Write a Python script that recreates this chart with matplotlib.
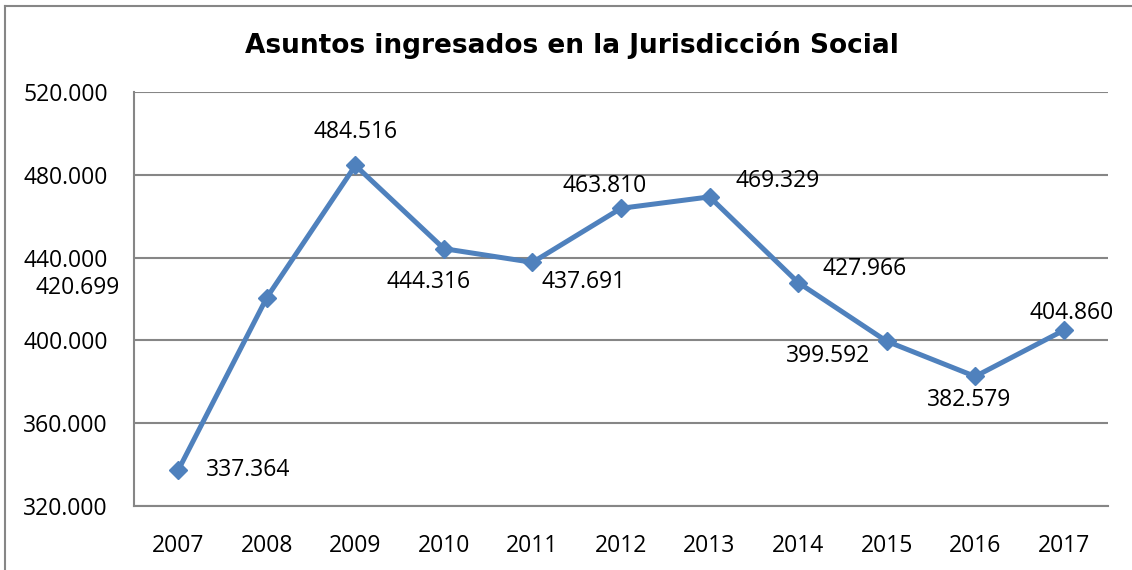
import matplotlib
matplotlib.use('Agg')
import matplotlib.pyplot as plt
from matplotlib.lines import Line2D
from matplotlib.ticker import FuncFormatter

years = ['2007', '2008', '2009', '2010', '2011', '2012', '2013', '2014', '2015', '2016', '2017']
asuntos = [337364, 420699, 484516, 444316, 437691, 463810, 469329, 427966, 399592, 382579, 404860]

# label offsets in pixels, as placed in the original chart
label_dx = [70, -189, 0, -15, 51, -16, 68, 67, -59, -6, 8]
label_dy = [0, 10, 33, -33, -20, 22, 16, 14, -15, -24, 17]

def miles(v, pos=None):
    return f'{v:,.0f}'.replace(',', '.')

fig = plt.figure(figsize=(11.32, 5.70), dpi=100)
ax = fig.add_axes([0.1184, 0.1123, 0.8604, 0.7263])

x = range(len(years))
ax.plot(x, asuntos, color='#4F81BD', linewidth=3.6, marker='D', markersize=9.5,
        markerfacecolor='#4F81BD', markeredgecolor='#4F81BD', zorder=3)

for i, v in enumerate(asuntos):
    ax.annotate(miles(v), (i, v), xytext=(label_dx[i], label_dy[i]),
                textcoords='offset pixels', ha='center', va='center',
                fontsize=16.5, family='Open Sans', color='black')

ax.set_xlim(-0.5, len(years) - 0.5)
ax.set_ylim(320000, 520000)
ax.set_yticks(range(320000, 520001, 40000))
ax.yaxis.set_major_formatter(FuncFormatter(miles))
ax.set_xticks(list(x))
ax.set_xticklabels(years)
ax.tick_params(length=0, labelsize=16.5)
ax.tick_params(axis='x', pad=20)
ax.tick_params(axis='y', pad=18.7)
for lab in ax.get_xticklabels() + ax.get_yticklabels():
    lab.set_family('Open Sans')

ax.grid(axis='y', color='#868686', linewidth=1.5)
ax.set_axisbelow(True)
for s in ['top', 'right']:
    ax.spines[s].set_visible(False)
for s in ['left', 'bottom']:
    ax.spines[s].set_color('#868686')
    ax.spines[s].set_linewidth(1.5)

fig.text(0.505, 0.921, 'Asuntos ingresados en la Jurisdicción Social',
         ha='center', va='center', fontsize=19, fontweight='bold',
         family='DejaVu Sans')

# outer chart frame (left and top visible)
fig.add_artist(Line2D([4.5 / 1132, 4.5 / 1132], [0, 1 - 6 / 570],
                      transform=fig.transFigure, color='#868686', linewidth=1.5))
fig.add_artist(Line2D([4.5 / 1132, 1], [1 - 6 / 570, 1 - 6 / 570],
                      transform=fig.transFigure, color='#868686', linewidth=1.5))

fig.savefig('out.png', dpi=100)
